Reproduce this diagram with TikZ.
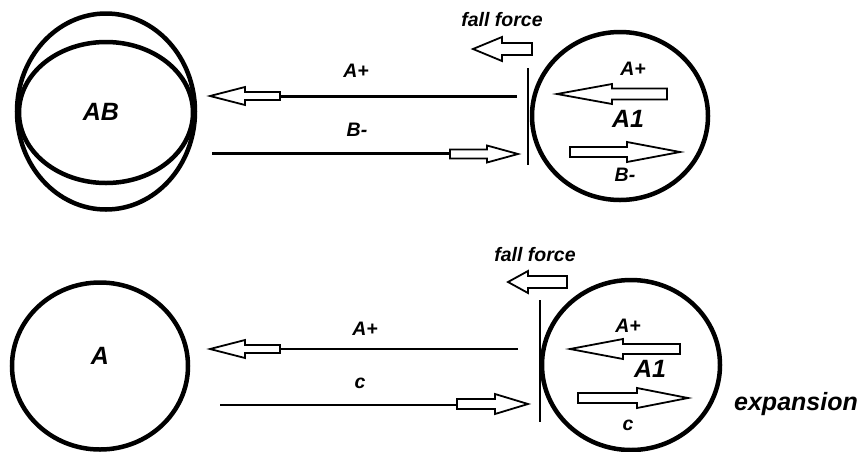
\documentclass[tikz,border=0pt]{standalone}
\usepackage{fontspec}
\newfontfamily\labfont{Liberation Sans}
\usetikzlibrary{shapes.geometric}
\tikzset{
  ring/.style={draw, line width=4.5pt, ellipse, inner sep=0pt},
  rod/.style={line width=2.4pt},
  bar/.style={line width=2.6pt},
  hollow/.style={draw, line width=1.8pt, fill=white, line join=miter},
  lab/.style={font=\labfont\bfseries\itshape\fontsize{19.5}{22}\selectfont, inner sep=0pt},
  biglab/.style={font=\labfont\bfseries\itshape\fontsize{25}{28}\selectfont, inner sep=0pt}
}
% hollow arrow: #1 tip x, #2 head base x, #3 tail x, #4 y, #5 shaft half, #6 head half
\newcommand\harrow[6]{%
  \draw[hollow] (#1,#4) -- (#2,#4-#6) -- (#2,#4-#5) -- (#3,#4-#5) -- (#3,#4+#5)
    -- (#2,#4+#5) -- (#2,#4+#6) -- cycle;}
\begin{document}
\begin{tikzpicture}[x=1pt,y=-1pt]
\useasboundingbox (0,0) rectangle (865,451);
% ---------- top panel ----------
\node[ring, minimum width=178pt, minimum height=196pt] (ABo) at (106,111.5) {};
\node[ring, minimum width=174pt, minimum height=141pt] (ABi) at (106,112.5) {};
\node[biglab] (ABl) at (101,112) {AB};
\node[ring, minimum width=176pt, minimum height=168pt] (A1t) at (620,116) {};
\node[biglab] (A1tl) at (628,119) {A1};
\coordinate (bt1) at (528,68); \coordinate (bt2) at (528,165);
\draw[bar] (bt1) -- (bt2);
\coordinate (la1) at (517,96.5); \coordinate (la2) at (280,96.5);
\draw[rod] (la1) -- (la2);
\harrow{210}{245}{280}{96}{4}{9}
\coordinate (lb1) at (212,153.5); \coordinate (lb2) at (450,153.5);
\draw[rod] (lb1) -- (lb2);
\harrow{518}{487}{450}{154}{4.5}{8.5}
\node[lab] (tap) at (356,71) {A+};
\node[lab] (tbm) at (357,130) {B-};
\node[lab] (tff) at (502,20) {fall force};
\harrow{473}{502}{532}{49}{6}{12}
\node[lab] (tiap) at (633,69) {A+};
\harrow{557}{612}{667}{94}{5.5}{10}
\harrow{680}{627}{570}{152}{5}{10}
\node[lab] (tibm) at (625,175) {B-};
% ---------- bottom panel ----------
\node[ring, minimum width=176pt, minimum height=167pt] (Ab) at (100,366) {};
\node[biglab] (Al) at (100,356) {A};
\node[ring, minimum width=178pt, minimum height=170pt] (A1b) at (631,365) {};
\node[biglab] (A1bl) at (650,369) {A1};
\coordinate (bb1) at (540,300); \coordinate (bb2) at (540,422);
\draw[bar] (bb1) -- (bb2);
\coordinate (lc1) at (518,349); \coordinate (lc2) at (280,349);
\draw[rod] (lc1) -- (lc2);
\harrow{210}{245}{280}{349}{4}{9}
\coordinate (ld1) at (220,405); \coordinate (ld2) at (457,405);
\draw[rod] (ld1) -- (ld2);
\harrow{528}{495}{457}{404}{5}{10}
\node[lab] (bap) at (365,329) {A+};
\node[lab] (bc) at (360,383) {c};
\node[lab] (bff) at (535,255) {fall force};
\harrow{508}{528}{567}{282}{6}{11}
\node[lab] (biap) at (628,326) {A+};
\harrow{570}{623}{680}{349}{5}{10}
\harrow{688}{637}{578}{398}{5}{10}
\node[lab] (bic) at (628,425) {c};
\node[biglab] (exp) at (796,404) {expansion};
\end{tikzpicture}
\end{document}
